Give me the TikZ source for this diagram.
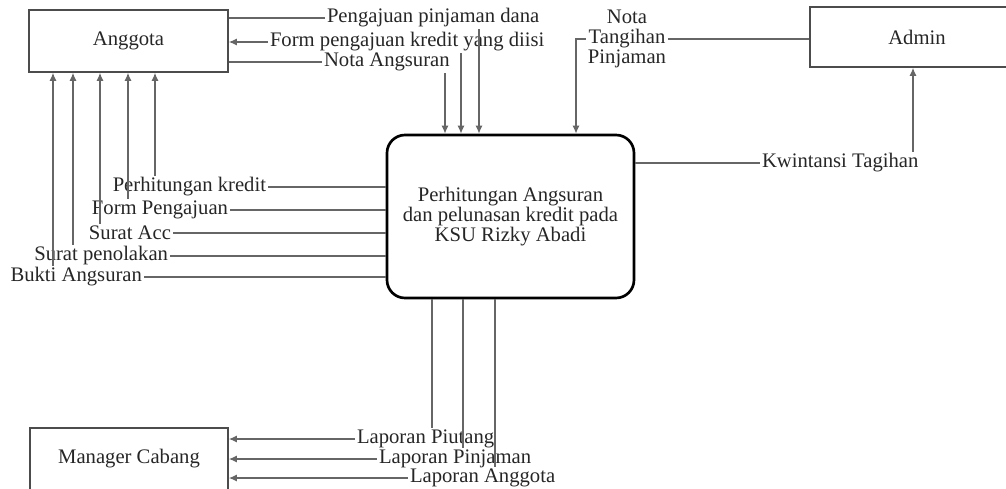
\documentclass[tikz,border=0pt]{standalone}
\usepackage{fontspec}
\setmainfont{Liberation Serif}
\usetikzlibrary{arrows.meta}
\tikzset{
  every node/.style={font=\fontsize{12.4}{11.8}\selectfont, text=black!85},
  entity/.style={draw=black!70, line width=0.9pt, inner sep=0pt},
  proc/.style={draw=black, line width=1.6pt, rounded corners=10.8pt, align=center},
  lbl/.style={inner sep=1pt},
  flow/.style={draw=black!60, line width=0.8pt},
  into/.style={flow, -{Latex[length=4.8pt,width=4.2pt]}},
}

\begin{document}
\begin{tikzpicture}[x=0.6pt, y=-0.6pt]
\clip (0,0) rectangle (1006,488);
\node[entity, minimum width=119.4pt, minimum height=37.2pt] (anggota) at (128.5,41) {Anggota};
\node[entity, minimum width=128.4pt, minimum height=36pt] (admin) at (917,37) {Admin};
\node[entity, minimum width=118.8pt, minimum height=37.2pt] (manager) at (129,459) {Manager Cabang};
\node[proc, minimum width=148.2pt, minimum height=97.8pt] (proses) at (510.5,216.5)
  {Perhitungan Angsuran\\dan pelunasan kredit pada\\KSU Rizky Abadi};

\node[lbl, anchor=west] (pengajuan) at (325,18) {Pengajuan pinjaman dana};
\node[lbl, anchor=west] (formisi) at (268,42) {Form pengajuan kredit yang diisi};
\node[lbl, anchor=west] (notaangs) at (322,62) {Nota Angsuran};
\draw[flow] (anggota.east |- pengajuan.west) -- (pengajuan.west);
\draw[into] (formisi.west) -- (anggota.east |- formisi.west);
\draw[flow] (anggota.east |- notaangs.west) -- (notaangs.west);
\draw[into] (pengajuan.south -| 479,0) -- (proses.north -| 479,0);
\draw[into] (formisi.south -| 461,0) -- (proses.north -| 461,0);
\draw[into] (notaangs.south -| 445,0) -- (proses.north -| 445,0);

\node[lbl, align=center] (tagihan) at (627,39) {Nota\\Tangihan\\Pinjaman};
\draw[flow] (admin.west |- tagihan.east) -- (tagihan.east);
\draw[into] (tagihan.west) -| (proses.north -| 576,0);

\node[lbl, anchor=west] (kwitansi) at (760,163) {Kwintansi Tagihan};
\draw[flow] (proses.east |- kwitansi.west) -- (kwitansi.west);
\draw[into] (kwitansi.north -| 913,0) -- (admin.south -| 913,0);

\foreach[count=\k] \txt/\xx/\yy/\xv in {Perhitungan kredit/268/187/155, Form Pengajuan/230/210/128,
  Surat Acc/173/233/100, Surat penolakan/170/256/73, Bukti Angsuran/144/277/53}
{
  \node[lbl, anchor=east] (kiri\k) at (\xx,\yy) {\txt};
  \draw[flow] (kiri\k.east) -- (kiri\k.east -| proses.west);
  \draw[into] (kiri\k.north -| \xv,0) -- (anggota.south -| \xv,0);
}

\foreach[count=\k] \txt/\xx/\yy/\xv in {Laporan Piutang/355/439/432, Laporan Pinjaman/377/459/463,
  Laporan Anggota/408/478/495}
{
  \node[lbl, anchor=west] (lap\k) at (\xx,\yy) {\txt};
  \draw[into] (lap\k.west) -- (manager.east |- lap\k.west);
  \draw[flow] (proses.south -| \xv,0) -- (lap\k.north -| \xv,0);
}
\end{tikzpicture}
\end{document}
